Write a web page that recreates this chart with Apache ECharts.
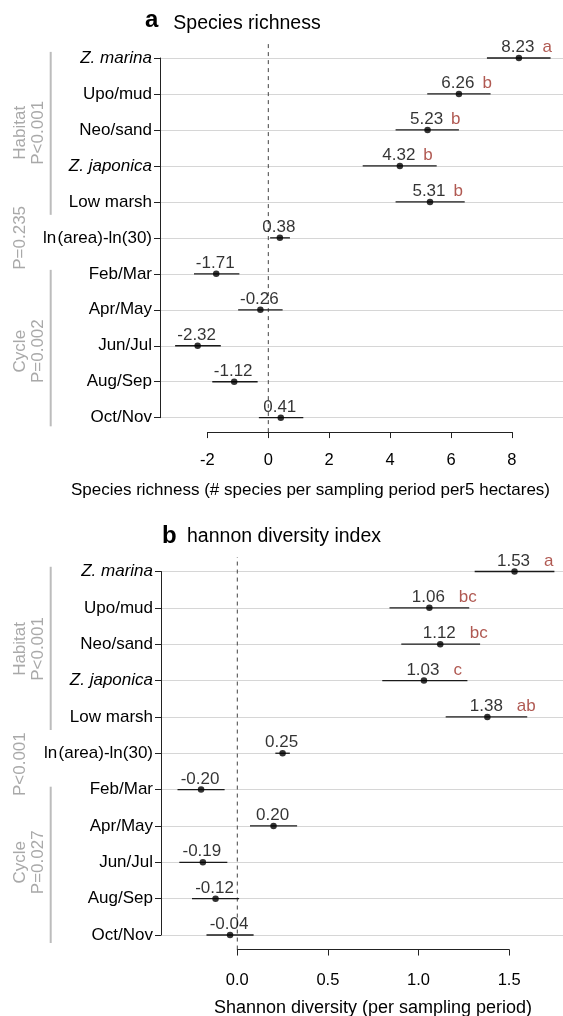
<!DOCTYPE html>
<html>
<head>
<meta charset="utf-8">
<script src="https://cdn.jsdelivr.net/npm/echarts@6/dist/echarts.min.js"></script>
<style>
html,body{margin:0;padding:0;background:#fff;}
#chart{width:563px;height:1016px;}
</style>
</head>
<body>
<div id="chart"></div>
<script>
// ---------- data ----------
const categories = ['Z. marina','Upo/mud','Neo/sand','Z. japonica','Low marsh','ln\u200A(area)-ln(30)','Feb/Mar','Apr/May','Jun/Jul','Aug/Sep','Oct/Nov'];
const italicCategories = ['Z. marina','Z. japonica'];

const richMean = [8.23, 6.26, 5.23, 4.32, 5.31, 0.38, -1.71, -0.26, -2.32, -1.12, 0.41];
const richLow  = [7.18, 5.22, 4.18, 3.10, 4.18, 0.06, -2.44, -0.99, -3.06, -1.84, -0.31];
const richHigh = [9.27, 7.30, 6.26, 5.53, 6.45, 0.71, -0.95, 0.47, -1.56, -0.35, 1.15];
const richLetters = ['a','b','b','b','b','','','','','',''];
const richTicks = [-2, 0, 2, 4, 6, 8];

const shanMean = [1.53, 1.06, 1.12, 1.03, 1.38, 0.25, -0.20, 0.20, -0.19, -0.12, -0.04];
const shanLow  = [1.31, 0.84, 0.905, 0.80, 1.15, 0.21, -0.33, 0.07, -0.32, -0.25, -0.17];
const shanHigh = [1.75, 1.28, 1.34, 1.27, 1.60, 0.29, -0.07, 0.33, -0.055, 0.01, 0.09];
const shanLetters = ['a','bc','bc','c','ab','','','','','',''];
const shanTicks = [0, 0.5, 1.0, 1.5];

const richGroups = [['Habitat','P<0.001'], ['P=0.235'], ['Cycle','P=0.002']];
const shanGroups = [['Habitat','P<0.001'], ['P<0.001'], ['Cycle','P=0.027']];

const richTitle = ['a', 'Species richness'];
const shanTitle = ['b', 'hannon diversity index'];
const richXName = 'Species richness (# species per sampling period per5 hectares)';
const shanXName = 'Shannon diversity (per sampling period)';

// ---------- layout ----------
const W = 563;
const FONT = "'Liberation Sans', Arial, Helvetica, sans-serif";
const panels = [
  { mean: richMean, low: richLow, high: richHigh, letters: richLetters, ticks: richTicks, groups: richGroups,
    title: richTitle, xName: richXName, dec: 0,
    rowTop: 58, rowBot: 417.7, left: 160, zeroPx: 268.3, ppu: 30.45, letterDx: 23.5, labelMargin: 20,
    titleA: {x:145, y:20}, titleT: {x:173.3, y:23.2},
    xNamePos: {x:310.5, y:490, size:17},
    groupRows: [2.08, 5.0, 8.15], bars: [[-0.17, 4.36], [5.89, 10.24]] },
  { mean: shanMean, low: shanLow, high: shanHigh, letters: shanLetters, ticks: shanTicks, groups: shanGroups,
    title: shanTitle, xName: shanXName, dec: 1,
    rowTop: 571.5, rowBot: 935, left: 161, zeroPx: 237.3, ppu: 181.2, letterDx: 29.5, labelMargin: 22.5,
    titleA: {x:162, y:536.7}, titleT: {x:187, y:536.5},
    xNamePos: {x:373, y:1008, size:18},
    groupRows: [2.13, 5.3, 8.0], bars: [[-0.13, 4.36], [5.92, 10.22]] }
];

const grids = [], xAxes = [], yAxes = [], series = [], graphics = [];
const DOT = 6.5;

panels.forEach((P, pi) => {
  const n = categories.length;
  const sp = (P.rowBot - P.rowTop) / (n - 1);
  const xMin = (P.left - P.zeroPx) / P.ppu;
  const xMax = (W - P.zeroPx) / P.ppu;
  const g0 = grids.length;

  // data grid
  grids.push({ left: P.left, width: W - P.left, top: P.rowTop, height: P.rowBot - P.rowTop });
  // dashed zero-line grid
  grids.push({ left: P.left, width: W - P.left, top: P.rowTop - 0.4 * sp, height: (P.rowBot - P.rowTop) + 0.8 * sp });
  // bottom axis grid
  const t0 = P.ticks[0], t1 = P.ticks[P.ticks.length - 1];
  const axisY = P.rowBot + 0.4 * sp;
  grids.push({ left: P.zeroPx + t0 * P.ppu, width: (t1 - t0) * P.ppu, top: axisY - 1, height: 1 });

  xAxes.push({ gridIndex: g0, type: 'value', min: xMin, max: xMax, show: false });
  xAxes.push({ gridIndex: g0 + 1, type: 'value', min: xMin, max: xMax, show: false });
  xAxes.push({ gridIndex: g0 + 2, type: 'value', min: t0, max: t1, interval: P.ticks[1] - P.ticks[0],
    axisLine: { show: true, lineStyle: { color: '#222', width: 1 } },
    axisTick: { show: true, length: 6, lineStyle: { color: '#222', width: 1 } },
    splitLine: { show: false },
    axisLabel: { show: true, margin: P.labelMargin, fontSize: 16.5, color: '#000', fontFamily: FONT,
      formatter: v => P.dec ? Number(v).toFixed(P.dec) : String(v) } });

  yAxes.push({ gridIndex: g0, type: 'category', inverse: true, boundaryGap: false, data: categories,
    axisLine: { show: true, onZero: false, lineStyle: { color: '#222', width: 1 } },
    axisTick: { show: true, length: 6, interval: 0, lineStyle: { color: '#222', width: 1 } },
    splitLine: { show: true, interval: 0, lineStyle: { color: '#d6d6d6', width: 1 } },
    axisLabel: { show: true, interval: 0, margin: 8, fontSize: 17, color: '#000', fontFamily: FONT,
      formatter: v => italicCategories.includes(v) ? '{i|' + v + '}' : v,
      rich: { i: { fontStyle: 'italic', fontSize: 17, color: '#000', fontFamily: FONT } } } });
  yAxes.push({ gridIndex: g0 + 1, type: 'value', min: 0, max: 1, show: false });
  yAxes.push({ gridIndex: g0 + 2, type: 'value', min: 0, max: 1, show: false });

  // dashed zero line
  series.push({ type: 'line', xAxisIndex: g0 + 1, yAxisIndex: g0 + 1, data: [[0, 0], [0, 1]],
    symbol: 'none', silent: true, lineStyle: { color: '#444', width: 1, type: [4, 4] }, z: 1 });

  // confidence intervals
  series.push({ type: 'custom', xAxisIndex: g0, yAxisIndex: g0,
    data: categories.map((c, i) => [P.low[i], P.high[i], i]),
    encode: { x: [0, 1], y: 2 },
    renderItem: (params, api) => {
      const a = api.coord([api.value(0), api.value(2)]);
      const b = api.coord([api.value(1), api.value(2)]);
      return { type: 'line', shape: { x1: a[0], y1: a[1], x2: b[0], y2: b[1] },
        style: { stroke: '#1a1a1a', lineWidth: 1.3 } };
    }, z: 3 });

  // means with value labels
  series.push({ type: 'scatter', xAxisIndex: g0, yAxisIndex: g0,
    data: P.mean.map((m, i) => [m, i]), symbol: 'circle', symbolSize: DOT,
    itemStyle: { color: '#000' },
    label: { show: true, position: [DOT / 2 - 1, DOT / 2 - 10.5], align: 'center', verticalAlign: 'middle',
      fontSize: 17, color: '#000', fontFamily: FONT,
      formatter: p => P.mean[p.dataIndex].toFixed(2) }, z: 4 });

  // significance letters
  series.push({ type: 'scatter', xAxisIndex: g0, yAxisIndex: g0,
    data: P.mean.map((m, i) => [m, i]), symbol: 'circle', symbolSize: 1,
    itemStyle: { color: 'rgba(0,0,0,0)' },
    label: { show: true, position: [0.5 + P.letterDx, 0.5 - 10.5], align: 'left', verticalAlign: 'middle',
      fontSize: 17, color: '#9c2f27', fontFamily: FONT,
      formatter: p => P.letters[p.dataIndex] }, z: 4 });

  // titles
  graphics.push({ type: 'text', x: P.titleA.x, y: P.titleA.y,
    style: { text: P.title[0], fontSize: 24, fontWeight: 'bold', fontFamily: FONT, fill: '#000',
      align: 'left', verticalAlign: 'middle', textAlign: 'left', textVerticalAlign: 'middle' } });
  graphics.push({ type: 'text', x: P.titleT.x, y: P.titleT.y,
    style: { text: P.title[1], fontSize: 19.5, fontFamily: FONT, fill: '#000',
      align: 'left', verticalAlign: 'middle', textAlign: 'left', textVerticalAlign: 'middle' } });
  // x axis name
  graphics.push({ type: 'text', x: P.xNamePos.x, y: P.xNamePos.y,
    style: { text: P.xName, fontSize: P.xNamePos.size, fontFamily: FONT, fill: '#000',
      align: 'center', verticalAlign: 'middle', textAlign: 'center', textVerticalAlign: 'middle' } });

  // group labels (rotated) and brackets
  const rowY = r => P.rowTop + r * sp;
  P.groups.forEach((lines, gi) => {
    const y = rowY(P.groupRows[gi]);
    lines.forEach((txt, li) => {
      graphics.push({ type: 'text', x: 20.5 + li * 17.5, y: y, rotation: Math.PI / 2,
        style: { text: txt, fontSize: 17, fontFamily: FONT, fill: '#a9a9a9',
          align: 'center', verticalAlign: 'middle', textAlign: 'center', textVerticalAlign: 'middle' } });
    });
  });
  P.bars.forEach(b => {
    graphics.push({ type: 'line', shape: { x1: 50.7, y1: rowY(b[0]), x2: 50.7, y2: rowY(b[1]) },
      style: { stroke: '#bcbcbc', lineWidth: 2 } });
  });
});

const chart = echarts.init(document.getElementById('chart'), null, { renderer: 'canvas' });
chart.setOption({
  animation: false,
  backgroundColor: '#ffffff',
  textStyle: { fontFamily: FONT },
  grid: grids,
  xAxis: xAxes,
  yAxis: yAxes,
  series: series,
  graphic: { elements: graphics }
});
</script>
</body>
</html>
